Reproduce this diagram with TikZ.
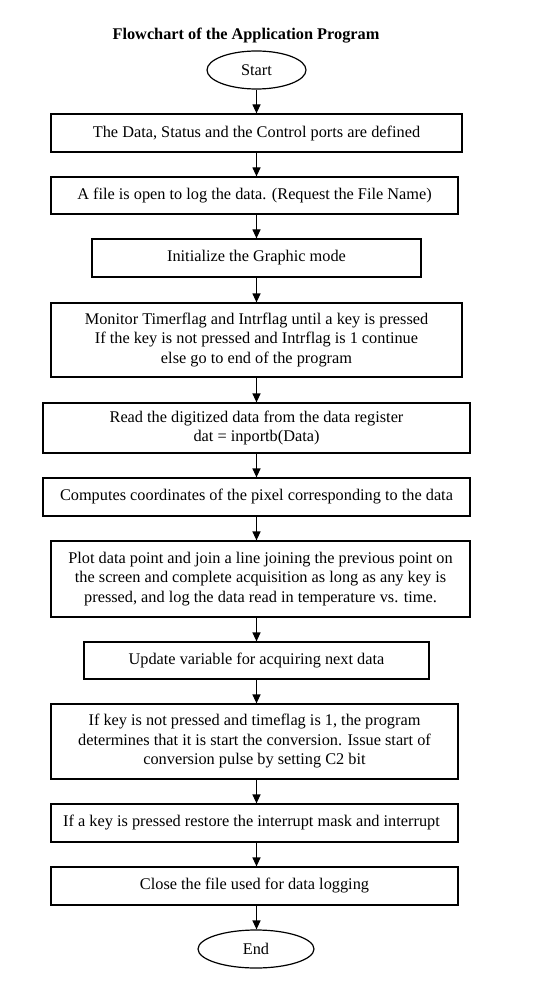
\documentclass[tikz,border=0pt]{standalone}
\usepackage{fontspec}
\setmainfont{Liberation Serif}
\usetikzlibrary{arrows.meta,shapes.geometric}
\begin{document}
\begin{tikzpicture}[x=1pt,y=-1pt,font=\fontsize{16.3}{19.5}\selectfont,
  procbox/.style={draw,rectangle,align=center,inner sep=0pt,line width=1.2pt},
  termbox/.style={draw,ellipse,inner sep=0pt,line width=1.2pt},
  flow/.style={-{Triangle[length=9pt,width=8pt]},line width=1.2pt}]
\useasboundingbox (0,0) rectangle (533,981);
\node[font=\fontsize{16.3}{19.5}\selectfont\bfseries] (title) at (246,36) {Flowchart of the Application Program};
\node[termbox,minimum width=99pt,minimum height=38pt] (start) at (256.5,70) {Start};
\node[procbox,minimum width=411pt,minimum height=38pt] (ports) at (256.5,133) {The Data, Status and the Control ports are defined};
\node[procbox,minimum width=407pt,minimum height=37pt] (file) at (254.5,195.5) {A file is open to log the data. (Request the File Name)};
\node[procbox,minimum width=329pt,minimum height=38pt] (graph) at (256.5,258) {Initialize the Graphic mode};
\node[procbox,minimum width=411pt,minimum height=74pt] (monitor) at (256.5,340) {Monitor Timerflag and Intrflag until a key is pressed\\If the key is not pressed and Intrflag is 1 continue\\else go to end of the program};
\node[procbox,minimum width=427pt,minimum height=50pt] (read) at (256.5,428) {Read the digitized data from the data register\\dat = inportb(Data)};
\node[procbox,minimum width=427pt,minimum height=38pt] (pixel) at (256.5,497) {Computes coordinates of the pixel corresponding to the data};
\node[procbox,minimum width=419pt,minimum height=76pt] (plot) at (260.5,579) {Plot data point and join a line joining the previous point on\\the screen and complete acquisition as long as any key is\\pressed, and log the data read in temperature vs. time.};
\node[procbox,minimum width=345pt,minimum height=37pt] (update) at (256.5,660.5) {Update variable for acquiring next data};
\node[procbox,minimum width=407pt,minimum height=75pt] (conv) at (254.5,741.5) {If key is not pressed and timeflag is 1, the program\\determines that it is start the conversion. Issue start of\\conversion pulse by setting C2 bit};
\node[procbox,minimum width=407pt,minimum height=38pt] (restore) at (254.5,823) {If a key is pressed restore the interrupt mask and interrupt\hspace{6pt}};
\node[procbox,minimum width=407pt,minimum height=38pt] (close) at (254.5,886) {Close the file used for data logging};
\node[termbox,minimum width=116pt,minimum height=38pt] (end) at (256,949) {End};
% arrows down the chart
\foreach \a/\b in {start/ports,ports/file,file/graph,graph/monitor,monitor/read,read/pixel,pixel/plot,plot/update,update/conv,conv/restore,restore/close,close/end}
\draw[flow] (start.south |- \a.south) -- (start.south |- \b.north);
\end{tikzpicture}
\end{document}
